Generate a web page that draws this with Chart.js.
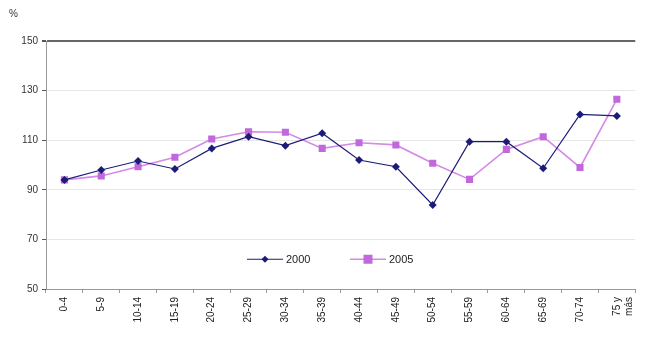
<!DOCTYPE html>
<html>
<head>
<meta charset="utf-8">
<script src="https://cdn.jsdelivr.net/npm/chart.js@4"></script>
<style>
  body { margin: 0; background: #fff; }
  #wrap { width: 645px; height: 356px; position: relative; }
</style>
</head>
<body>
<div id="wrap"><canvas id="chart"></canvas></div>
<script>
const ageGroups = ['0-4', '5-9', '10-14', '15-19', '20-24', '25-29', '30-34', '35-39',
  '40-44', '45-49', '50-54', '55-59', '60-64', '65-69', '70-74', ['75 y', 'más']];
const values2000 = [94, 98, 101.6, 98.4, 106.7, 111.4, 107.8, 112.8,
  102, 99.3, 83.9, 109.4, 109.4, 98.7, 120.4, 119.8];
const values2005 = [94, 95.6, 99.3, 103.1, 110.5, 113.4, 113.2, 106.7,
  109, 108.1, 100.7, 94.2, 106.3, 111.4, 99, 126.5];
const yTicks = [50, 70, 90, 110, 130, 150];

const font = { family: 'Liberation Sans, Arial, sans-serif', size: 10 };

// legend drawn inside the plot, plus the "%" unit label
const extras = {
  id: 'extras',
  afterDraw(chart) {
    const c = chart.ctx;
    c.save();
    c.font = '10px Liberation Sans, Arial, sans-serif';
    c.fillStyle = '#333';
    c.textBaseline = 'middle';
    c.fillText('%', 9, 14);

    const y = chart.scales.y.getPixelForValue(62);
    let x = 247;
    chart.data.datasets.forEach(ds => {
      c.strokeStyle = ds.borderColor;
      c.lineWidth = ds.borderWidth;
      c.beginPath();
      c.moveTo(x, y);
      c.lineTo(x + 36, y);
      c.stroke();
      c.fillStyle = ds.pointBackgroundColor;
      const s = ds.pointRadius - 0.5;
      if (ds.pointStyle === 'rect') {
        c.fillRect(x + 18 - s, y - s, s * 2, s * 2);
      } else {
        c.beginPath();
        c.moveTo(x + 18, y - s);
        c.lineTo(x + 18 + s, y);
        c.lineTo(x + 18, y + s);
        c.lineTo(x + 18 - s, y);
        c.closePath();
        c.fill();
      }
      c.fillStyle = '#222';
      c.font = '11px Liberation Sans, Arial, sans-serif';
      c.fillText(ds.label, x + 39, y + 1);
      x += 103;
    });
    c.restore();
  }
};

new Chart(document.getElementById('chart'), {
  type: 'line',
  data: {
    labels: ageGroups,
    datasets: [
      {
        label: '2000',
        data: values2000,
        borderColor: '#1c1c78',
        backgroundColor: '#1c1c78',
        pointBackgroundColor: '#1c1c78',
        pointBorderWidth: 0,
        pointStyle: 'rectRot',
        pointRadius: 4,
        borderWidth: 1.2,
        tension: 0
      },
      {
        label: '2005',
        data: values2005,
        borderColor: '#d48ae6',
        backgroundColor: '#c068dc',
        pointBackgroundColor: '#c068dc',
        pointBorderWidth: 0,
        pointStyle: 'rect',
        pointRadius: 5,
        borderWidth: 1.6,
        tension: 0
      }
    ]
  },
  options: {
    responsive: true,
    maintainAspectRatio: false,
    animation: false,
    layout: { padding: { top: 41, right: 5, left: 0, bottom: 0 } },
    plugins: {
      legend: { display: false },
      tooltip: { enabled: false }
    },
    scales: {
      x: {
        offset: true,
        grid: {
          offset: true,
          drawOnChartArea: false,
          tickLength: 4,
          color: '#999'
        },
        border: { color: '#999' },
        ticks: {
          font: font,
          color: '#222',
          minRotation: 90,
          maxRotation: 90,
          autoSkip: false,
          padding: 4
        },
        afterFit(scale) { scale.height = 67; }
      },
      y: {
        min: 50,
        max: 150,
        afterBuildTicks(scale) { scale.ticks = yTicks.map(v => ({ value: v })); },
        grid: {
          color: ctx => ctx.tick && ctx.tick.value === 150 ? '#666' : '#e6e6e6',
          lineWidth: ctx => ctx.tick && ctx.tick.value === 150 ? 2 : 1,
          tickColor: '#555',
          tickLength: 4
        },
        border: { color: '#999' },
        ticks: { font: font, color: '#333', padding: 4 },
        afterFit(scale) { scale.width = 46; }
      }
    }
  },
  plugins: [extras]
});
</script>
</body>
</html>
